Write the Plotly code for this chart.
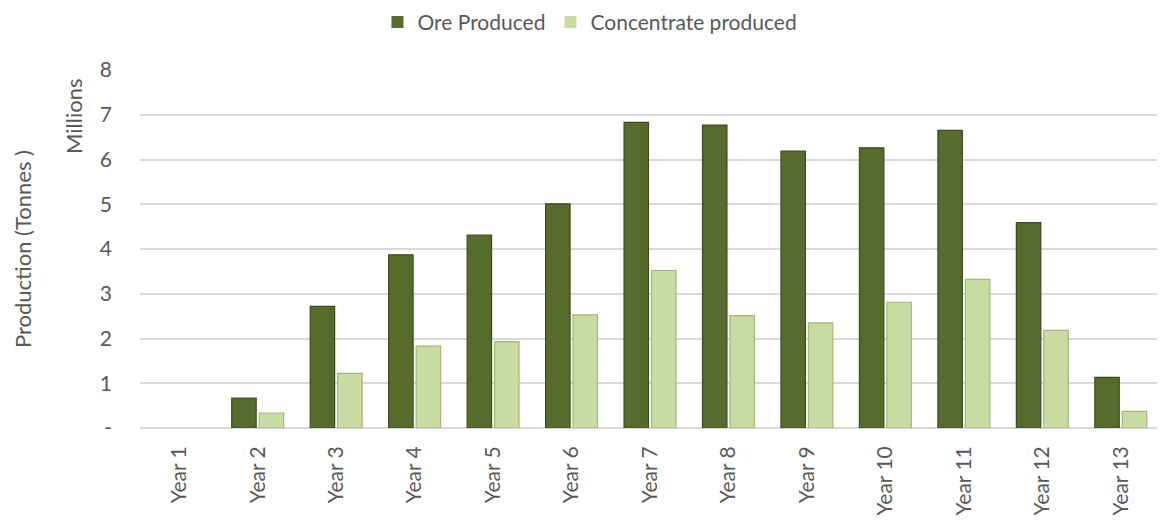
import plotly.graph_objects as go

years = ["Year 1", "Year 2", "Year 3", "Year 4", "Year 5", "Year 6", "Year 7",
         "Year 8", "Year 9", "Year 10", "Year 11", "Year 12", "Year 13"]
ore_produced = [0.0, 0.67, 2.72, 3.87, 4.31, 5.01, 6.83, 6.77, 6.19, 6.26, 6.65, 4.59, 1.13]
concentrate_produced = [0.0, 0.335, 1.22, 1.83, 1.93, 2.53, 3.52, 2.51, 2.35, 2.81, 3.32, 2.18, 0.37]
y_tickvals = [0, 1, 2, 3, 4, 5, 6, 7, 8]
y_ticktext = ["-", "1", "2", "3", "4", "5", "6", "7", "8"]

FONT = "Lato"
TXT = "#595959"


def edge_widths(vals):
    return [0 if v == 0 else 1.2 for v in vals]


fig = go.Figure()
fig.add_trace(go.Bar(
    x=years, y=ore_produced, name="Ore Produced",
    marker=dict(color="#566B2C",
                line=dict(color="#3C4D1C", width=edge_widths(ore_produced))),
))
fig.add_trace(go.Bar(
    x=years, y=concentrate_produced, name="Concentrate produced",
    marker=dict(color="#C8DBA0",
                line=dict(color="#A3B877", width=edge_widths(concentrate_produced))),
))

# page body has an 8px default margin, so the figure is sized to fit the window
fig.update_layout(
    width=1157, height=512,
    margin=dict(l=132, r=5, t=62, b=92),
    paper_bgcolor="white", plot_bgcolor="white",
    barmode="group", bargap=0.3, bargroupgap=0.11,
    font=dict(family=FONT, color=TXT, size=21),
    legend=dict(
        orientation="h", xref="container", yref="container",
        x=0.503, xanchor="center", y=0.972, yanchor="middle",
        font=dict(size=21, color=TXT), itemwidth=30, traceorder="normal",
    ),
    xaxis=dict(
        tickangle=-90, tickfont=dict(size=21, color=TXT),
        showline=False, ticks="", showgrid=False, automargin=False,
        ticklabelstandoff=13,
    ),
    yaxis=dict(
        range=[0, 8], tickvals=y_tickvals, ticktext=y_ticktext,
        tickfont=dict(size=21, color=TXT),
        showgrid=True, gridcolor="#D9D9D9", gridwidth=1.6,
        zeroline=True, zerolinecolor="#D9D9D9", zerolinewidth=2,
        showline=False, ticks="", ticklabelstandoff=27, automargin=False,
    ),
    annotations=[
        dict(text="Production (Tonnes )", xref="paper", yref="paper",
             x=0, xshift=-118, y=0.5, textangle=-90, showarrow=False,
             font=dict(size=22, color=TXT), xanchor="center", yanchor="middle"),
        dict(text="Millions", xref="paper", yref="paper",
             x=0, xshift=-67, y=1, yshift=-47, textangle=-90, showarrow=False,
             font=dict(size=22, color=TXT), xanchor="center", yanchor="middle"),
    ],
)

fig.write_html("out.html")
